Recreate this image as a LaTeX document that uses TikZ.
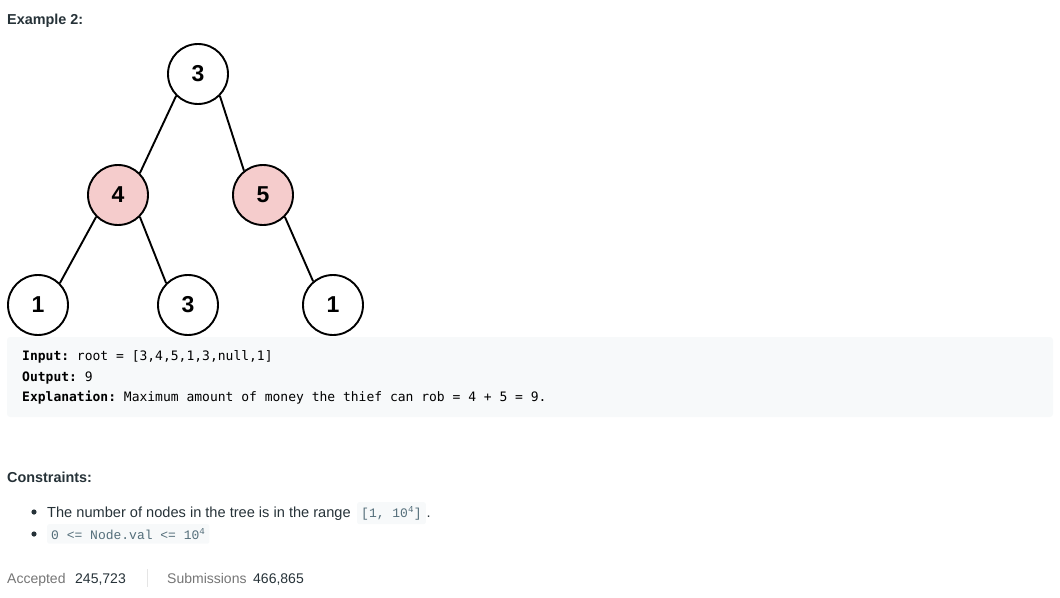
\documentclass[tikz,border=0pt]{standalone}
\usepackage{fontspec}
\setmainfont{Liberation Sans}
\setmonofont{DejaVu Sans Mono}
\newfontfamily\inlmono{Liberation Mono}
\usetikzlibrary{positioning, backgrounds}
\definecolor{pinkfill}{HTML}{F5CCCC}
\definecolor{codebg}{HTML}{F7F9FA}
\definecolor{codefg}{HTML}{546E7A}
\definecolor{textfg}{HTML}{263238}
\definecolor{mutedfg}{HTML}{757575}
\tikzstyle{tnode} = [circle, draw=black, line width=1.9pt, minimum size=60pt, inner sep=0pt, fill=white, font=\fontsize{23}{23}\selectfont\bfseries]
\tikzstyle{rob} = [tnode, fill=pinkfill]
\tikzstyle{edge} = [line width=1.9pt]
\tikzstyle{txt} = [anchor=base west, inner sep=0pt, text=textfg, font=\fontsize{14.6}{18}\selectfont]
\tikzstyle{head} = [txt, font=\fontsize{14.4}{18}\selectfont\bfseries]
\tikzstyle{code} = [anchor=base west, inner sep=0pt, font=\fontsize{13}{16}\selectfont\ttfamily]
\tikzstyle{inl} = [anchor=base west, inner xsep=4pt, inner ysep=4.5pt, fill=codebg, rounded corners=2pt, text=codefg, font=\fontsize{13}{15}\selectfont\inlmono]

\begin{document}
\begin{tikzpicture}[x=1pt, y=-1pt]
\useasboundingbox (0,0) rectangle (1060,597);

  % title
  \node[head] (title) at (7,24) {Example 2:};

  % tree
  \node[tnode] (root) at (198,74) {3};
  \node[rob] (l) at (118,195) {4};
  \node[rob] (r) at (263,195) {5};
  \node[tnode] (ll) at (38,305) {1};
  \node[tnode] (lr) at (188,305) {3};
  \node[tnode] (rr) at (333,305) {1};
  \draw[edge] (root.225) -- (l.45);
  \draw[edge] (root.315) -- (r.128);
  \draw[edge] (l.225) -- (ll.45);
  \draw[edge] (l.315) -- (lr.135);
  \draw[edge] (r.315) -- (rr.130);

  % example box
  \begin{scope}[on background layer]
  \fill[codebg, rounded corners=3pt] (7,337) rectangle (1053,417);
  \end{scope}
  \node[code] (in) at (22,360) {\textbf{Input:} root = [3,4,5,1,3,null,1]};
  \node[code] (out) at (22,381) {\textbf{Output:} 9};
  \node[code] (expl) at (22,401) {\textbf{Explanation:} Maximum amount of money the thief can rob = 4 + 5 = 9.};

  % constraints
  \node[head] (cons) at (7,482) {Constraints:};
  \fill[textfg] (34,512) circle (2.6pt);
  \fill[textfg] (34,534) circle (2.6pt);
  \node[txt] (c1) at (47,517) {The number of nodes in the tree is in the range};
  \node[inl] (c1code) at (357,517) {[1, 10\textsuperscript{4}]};
  \node[txt, right=0.5pt of c1code.base east, anchor=base west] (c1dot) {.};
  \node[inl] (c2code) at (47,539) {0 <= Node.val <= 10\textsuperscript{4}};

  % stats
  \node[txt, text=mutedfg, font=\fontsize{14}{16}\selectfont] (acc) at (7,583) {Accepted};
  \node[txt, font=\fontsize{14}{16}\selectfont] (accn) at (75,583) {245,723};
  \draw[black!10, line width=0.8pt] (147,569) -- (147,587);
  \node[txt, text=mutedfg, font=\fontsize{14}{16}\selectfont] (sub) at (167,583) {Submissions};
  \node[txt, font=\fontsize{14}{16}\selectfont] (subn) at (253,583) {466,865};

\end{tikzpicture}
\end{document}
